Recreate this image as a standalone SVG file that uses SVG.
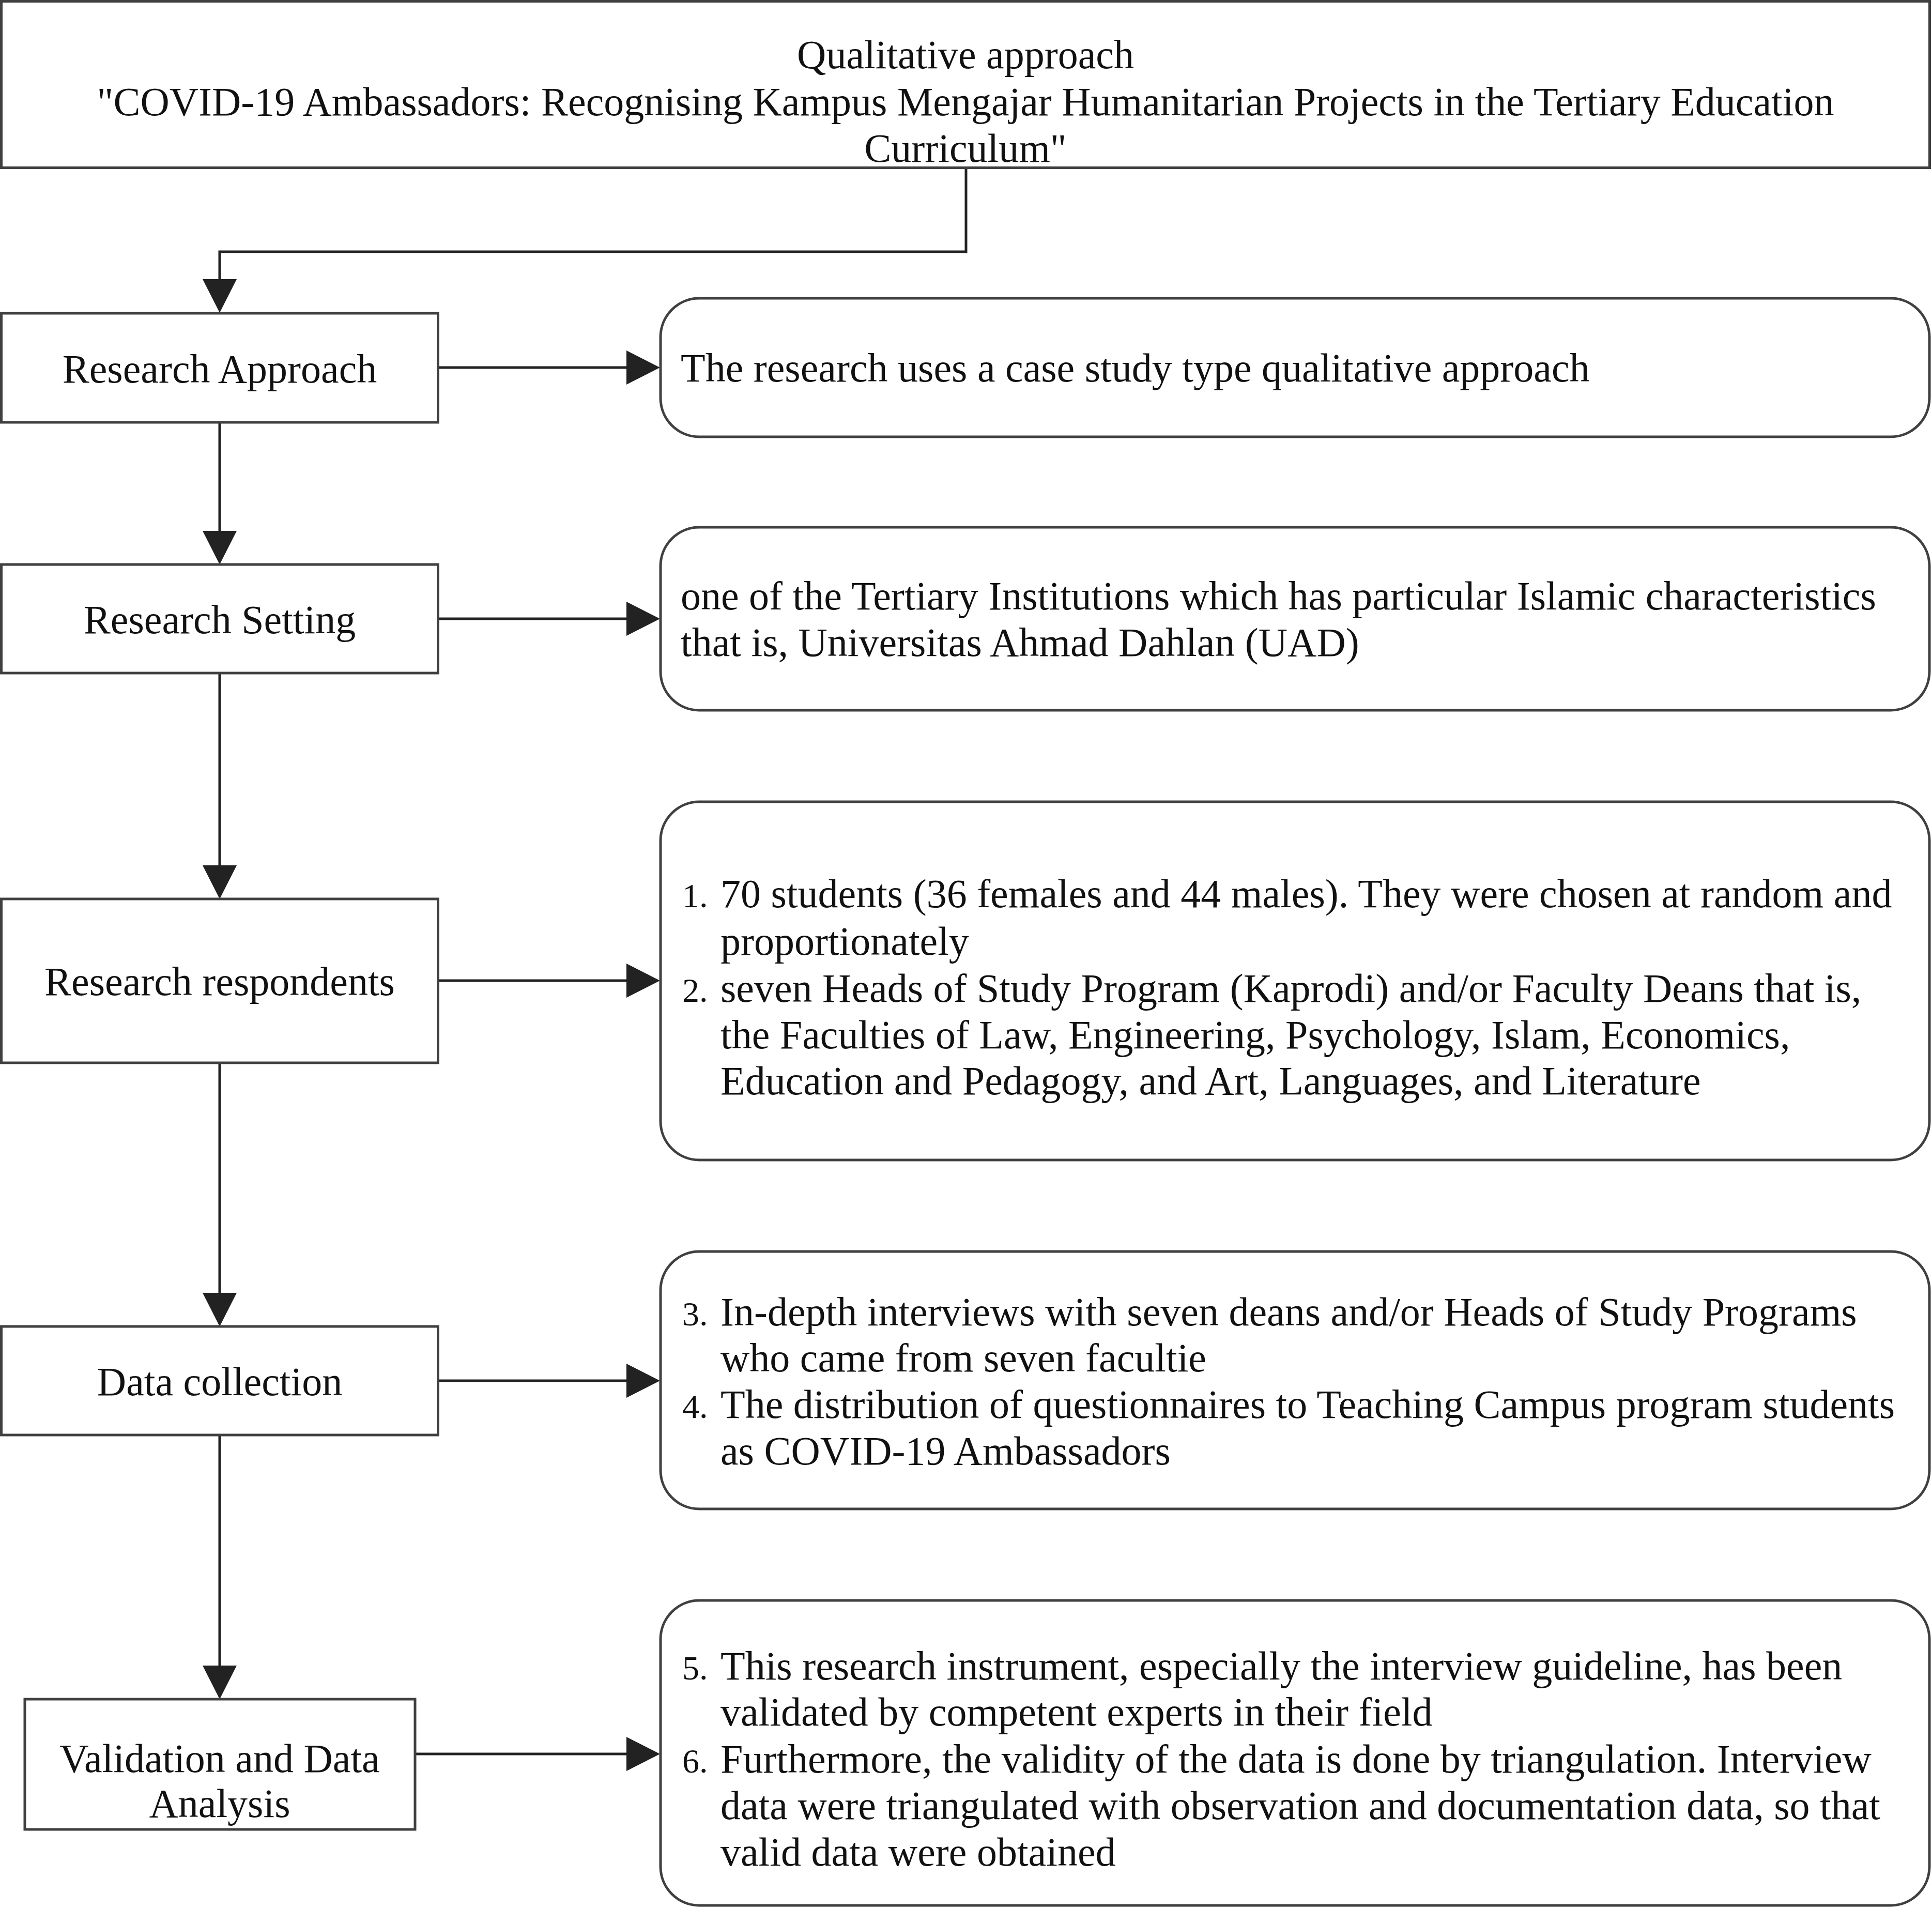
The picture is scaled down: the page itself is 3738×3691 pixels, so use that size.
<svg xmlns="http://www.w3.org/2000/svg" width="3738" height="3691" viewBox="0 0 3738 3691">
<defs>
<style>
.box{fill:#fff;stroke:#404040;stroke-width:5}
.rbox{fill:#fff;stroke:#404040;stroke-width:5}
.con{fill:none;stroke:#222;stroke-width:5}
text{font-family:"Liberation Serif","Times New Roman",serif;font-size:78px;fill:#111}
.c{text-anchor:middle}
.n{font-size:66px}
</style>
<marker id="ah" markerUnits="userSpaceOnUse" markerWidth="66" markerHeight="66" viewBox="0 0 65 66" refX="45" refY="33" orient="auto">
<path d="M0,0 L65,33 L0,66 Z" fill="#222"/>
</marker>
</defs>
<rect width="3738" height="3691" fill="#fff"/>
<g id="connectors">
<path class="con" d="M1869,324 V487 H425 V585" marker-end="url(#ah)"/>
<path class="con" d="M425,817 V1072" marker-end="url(#ah)"/>
<path class="con" d="M425,1302 V1719" marker-end="url(#ah)"/>
<path class="con" d="M425,2056 V2546" marker-end="url(#ah)"/>
<path class="con" d="M425,2776 V3267" marker-end="url(#ah)"/>
<path class="con" d="M848,711 H1257" marker-end="url(#ah)"/>
<path class="con" d="M848,1197 H1257" marker-end="url(#ah)"/>
<path class="con" d="M848,1897 H1257" marker-end="url(#ah)"/>
<path class="con" d="M848,2671 H1257" marker-end="url(#ah)"/>
<path class="con" d="M803,3393 H1257" marker-end="url(#ah)"/>
</g>
<g id="title">
<rect class="box" x="2.5" y="2.5" width="3731" height="322"/>
<text class="c" x="1868" y="132">Qualitative approach</text>
<text class="c" x="1868" y="223">"COVID-19 Ambassadors: Recognising Kampus Mengajar Humanitarian Projects in the Tertiary Education</text>
<text class="c" x="1868" y="313">Curriculum"</text>
</g>
<g id="research-approach">
<rect class="box" x="2.5" y="606" width="845" height="211"/>
<text class="c" x="425" y="740">Research Approach</text>
</g>
<g id="research-approach-detail">
<rect class="rbox" x="1278" y="577" width="2455" height="268" rx="75" ry="75"/>
<text x="1317" y="738">The research uses a case study type qualitative approach</text>
</g>
<g id="research-setting">
<rect class="box" x="2.5" y="1092" width="845" height="210"/>
<text class="c" x="425" y="1225">Research Setting</text>
</g>
<g id="research-setting-detail">
<rect class="rbox" x="1278" y="1020" width="2455" height="354" rx="75" ry="75"/>
<text x="1317" y="1179">one of the Tertiary Institutions which has particular Islamic characteristics</text>
<text x="1317" y="1269">that is, Universitas Ahmad Dahlan (UAD)</text>
</g>
<g id="research-respondents">
<rect class="box" x="2.5" y="1739" width="845" height="317"/>
<text class="c" x="425" y="1925">Research respondents</text>
</g>
<g id="research-respondents-detail">
<rect class="rbox" x="1278" y="1551" width="2455" height="693" rx="75" ry="75"/>
<text class="n" x="1320" y="1755">1.</text>
<text x="1394" y="1755">70 students (36 females and 44 males). They were chosen at random and</text>
<text x="1394" y="1847">proportionately</text>
<text class="n" x="1320" y="1938">2.</text>
<text x="1394" y="1938">seven Heads of Study Program (Kaprodi) and/or Faculty Deans that is,</text>
<text x="1394" y="2028">the Faculties of Law, Engineering, Psychology, Islam, Economics,</text>
<text x="1394" y="2117">Education and Pedagogy, and Art, Languages, and Literature</text>
</g>
<g id="data-collection">
<rect class="box" x="2.5" y="2566" width="845" height="210"/>
<text class="c" x="425" y="2699">Data collection</text>
</g>
<g id="data-collection-detail">
<rect class="rbox" x="1278" y="2421" width="2455" height="498" rx="75" ry="75"/>
<text class="n" x="1320" y="2564">3.</text>
<text x="1394" y="2564">In-depth interviews with seven deans and/or Heads of Study Programs</text>
<text x="1394" y="2653">who came from seven facultie</text>
<text class="n" x="1320" y="2743">4.</text>
<text x="1394" y="2743">The distribution of questionnaires to Teaching Campus program students</text>
<text x="1394" y="2833">as COVID-19 Ambassadors</text>
</g>
<g id="validation">
<rect class="box" x="48" y="3287" width="755" height="252"/>
<text class="c" x="425" y="3428">Validation and Data</text>
<text class="c" x="425" y="3515">Analysis</text>
</g>
<g id="validation-detail">
<rect class="rbox" x="1278" y="3096" width="2455" height="590" rx="75" ry="75"/>
<text class="n" x="1320" y="3249">5.</text>
<text x="1394" y="3249">This research instrument, especially the interview guideline, has been</text>
<text x="1394" y="3338">validated by competent experts in their field</text>
<text class="n" x="1320" y="3429">6.</text>
<text x="1394" y="3429">Furthermore, the validity of the data is done by triangulation. Interview</text>
<text x="1394" y="3519">data were triangulated with observation and documentation data, so that</text>
<text x="1394" y="3609">valid data were obtained</text>
</g>
</svg>
